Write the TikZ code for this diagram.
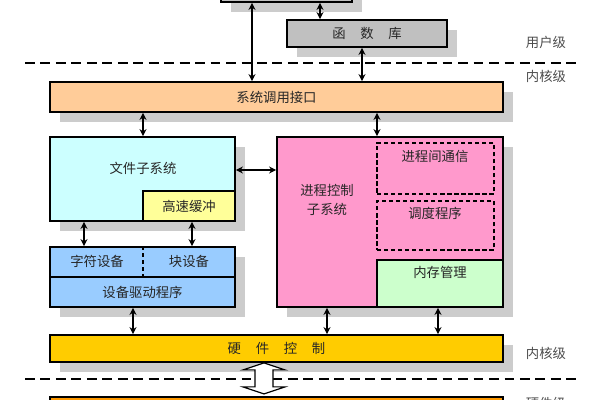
\documentclass[tikz,border=0pt]{standalone}
\usepackage{fontspec}
\setmainfont{Noto Sans CJK SC}
\usetikzlibrary{arrows.meta,shadows}
\definecolor{huise}{RGB}{192,192,192}
\definecolor{jiekou}{RGB}{255,204,153}
\definecolor{wenjian}{RGB}{204,255,255}
\definecolor{huanchong}{RGB}{255,255,153}
\definecolor{jincheng}{RGB}{255,153,204}
\definecolor{neicun}{RGB}{204,255,204}
\definecolor{shebei}{RGB}{153,204,255}
\definecolor{kongzhi}{RGB}{255,204,0}
\definecolor{yingjian}{RGB}{255,153,0}

\begin{document}
\begin{tikzpicture}[x=0.025cm, y=-0.025cm, >={Stealth[length=5pt,width=5pt]}, line width=1pt,
    box/.style={draw, line width=1.3pt, inner sep=0pt, text=black!85, font=\fontsize{9.5}{11}\selectfont},
    sz/.style 2 args={minimum width=#1*0.025cm, minimum height=#2*0.025cm},
    shad/.style={general shadow={fill=black!20, shadow xshift=0.25cm, shadow yshift=-0.25cm}},
    sub/.style={draw, dash pattern=on 3pt off 2pt, line width=1pt, inner sep=0pt},
    txt/.style={inner sep=0pt, text=black!85, font=\fontsize{9.5}{13}\selectfont, align=center},
    lvl/.style={inner sep=0pt, text=black!70, font=\fontsize{9.5}{11}\selectfont},
    lay/.style={dash pattern=on 7pt off 4pt, line width=1.3pt}]
    \useasboundingbox (0,0) rectangle (600,400);
    \clip (0,0) rectangle (600,400);
    % user level
    \node[box, shad, fill=huise, sz={131}{27}] (app) at (286.5,-11.5) {};
    \node[box, shad, fill=huise, sz={160}{27}] (lib) at (367,33.5) {函\hspace{1.1em}数\hspace{1.1em}库};
    \draw[lay] (25,63) -- (580,63);
    \node[lvl] (ul) at (546,42) {用户级};
    \node[lvl] (kl1) at (546,76) {内核级};
    % kernel level
    \node[box, shad, fill=jiekou, sz={453}{30}] (sys) at (276.5,97) {系统调用接口};
    \node[box, shad, fill=wenjian, sz={185}{84}] (fs) at (142.5,179) {};
    \node[box, fill=huanchong, sz={92}{30}] (cache) at (189,206) {高速缓冲};
    \node[txt] (fst) at (143,168) {文件子系统};
    \node[box, shad, fill=jincheng, sz={226}{170}] (proc) at (390,222) {};
    \node[txt] (proct) at (327,200) {进程控制\\子系统};
    \node[sub, sz={117}{51}] (ipc) at (435.5,168.5) {};
    \node[txt] (ipct) at (435,156) {进程间通信};
    \node[sub, sz={117}{49}] (sched) at (435.5,225.5) {};
    \node[txt] (schedt) at (435,213) {调度程序};
    \node[box, fill=neicun, sz={126}{47}] (mem) at (440,283.5) {};
    \node[txt] (memt) at (440,272) {内存管理};
    \node[box, shad, fill=shebei, sz={185}{30}] (dev) at (142.5,262) {};
    \node[box, shad, fill=shebei, sz={185}{30}] (drv) at (142.5,292) {设备驱动程序};
    \node[txt] (chr) at (97,261) {字符设备};
    \node[txt] (blk) at (189,261) {块设备};
    \draw[dash pattern=on 3pt off 2pt, line width=1.3pt] (dev.north -| 143,0) -- (dev.south -| 143,0);
    \node[box, shad, fill=kongzhi, sz={453}{27}] (hwc) at (276.5,348.5) {硬\hspace{1.1em}件\hspace{1.1em}控\hspace{1.1em}制};
    \node[lvl] (kl2) at (546,353) {内核级};
    % hardware level
    \draw[lay] (25,379) -- (580,379);
    \node[box, shad, fill=yingjian, sz={453}{30}] (hw) at (276.5,412) {};
    \node[lvl] (hl) at (546,403) {硬件级};
    % connectors
    \draw[<->] (app.south -| 252,0) -- (sys.north -| 252,0);
    \draw[<->] (app.south -| 320,0) -- (lib.north -| 320,0);
    \draw[<->] (lib.south -| 362,0) -- (sys.north -| 362,0);
    \draw[<->] (sys.south -| 143,0) -- (fs.north -| 143,0);
    \draw[<->] (sys.south -| 377,0) -- (proc.north -| 377,0);
    \draw[<->] (fs.east |- 0,170) -- (proc.west |- 0,170);
    \draw[<->] (fs.south -| 84,0) -- (dev.north -| 84,0);
    \draw[<->] (cache.south -| 192,0) -- (dev.north -| 192,0);
    \draw[<->] (drv.south -| 133,0) -- (hwc.north -| 133,0);
    \draw[<->] (proc.south -| 327,0) -- (hwc.north -| 327,0);
    \draw[<->] (mem.south -| 438,0) -- (hwc.north -| 438,0);
    \coordinate (ha) at (hwc.south -| 264,0);
    \draw[line width=0.8pt, fill=white] (ha) -- ++(21,7) -- ++(-12,0) -- ++(0,17) -- ++(12,0)
        -- ++(-21,7) -- ++(-21,-7) -- ++(12,0) -- ++(0,-17) -- ++(-12,0) -- cycle;
\end{tikzpicture}
\end{document}
